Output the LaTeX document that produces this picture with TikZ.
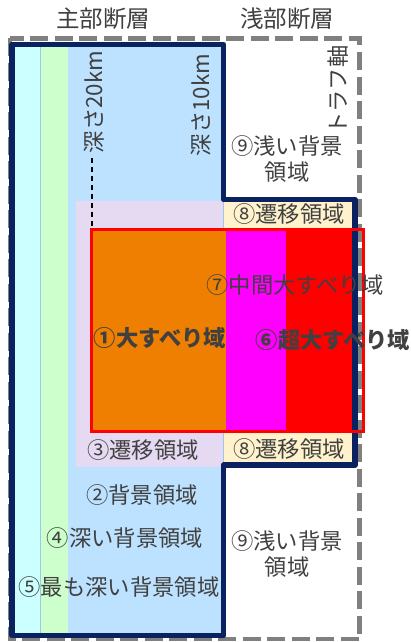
\documentclass[tikz,border=0pt]{standalone}
\usepackage{fontspec}
\setmainfont{Noto Sans CJK JP}
\definecolor{navyc}{HTML}{0B2260}
\definecolor{cyanf}{HTML}{CCFFFF}
\definecolor{greenf}{HTML}{CCFFCC}
\definecolor{bluef}{HTML}{BDE2FF}
\definecolor{purplef}{HTML}{E6D9F2}
\definecolor{yellowf}{HTML}{FFF2CC}
\definecolor{orangef}{HTML}{EF7F00}
\definecolor{magentaf}{HTML}{FF00FF}
\definecolor{redf}{HTML}{FF0000}
\definecolor{txt}{HTML}{404040}
\definecolor{grayd}{HTML}{808080}
\definecolor{edgeblue}{HTML}{9CC8EE}
\tikzset{
  lbl/.style={text=txt, inner sep=0pt, font=\fontsize{22.3}{26}\selectfont},
  blbl/.style={lbl, font=\fontsize{22.3}{26}\selectfont\bfseries},
  hdr/.style={lbl, font=\fontsize{23.5}{27}\selectfont},
  rot/.style={lbl, rotate=90},
  navyline/.style={draw=navyc, line width=5.5pt, line join=round},
  grayline/.style={draw=grayd, line width=4.5pt, dash pattern=on 18pt off 6.5pt},
  redline/.style={draw=redf, line width=3pt},
  depthline/.style={draw=black, line width=1.4pt, dash pattern=on 5pt off 4pt}
}
\begin{document}
\begin{tikzpicture}[x=1pt,y=-1pt]
\useasboundingbox (0,0) rectangle (410,642);
% background strips of the main fault
\fill[cyanf] (12,44.5) rectangle (40,635.5);
\fill[greenf] (40,44.5) rectangle (68,635.5);
\fill[bluef] (68,44.5) rectangle (223.5,635.5);
\draw[edgeblue, line width=0.5pt] (40,44.5) -- (40,635.5);
% transition regions
\fill[purplef] (76,201) rectangle (222.5,467);
\fill[yellowf] (223.5,199.5) rectangle (355,229);
\fill[yellowf] (223.5,431) rectangle (355,465);
\draw[edgeblue, line width=0.7pt] (223,199.5) -- (223,465);
% depth 20 km dashed marker
\coordinate (d1) at (92,158);
\coordinate (d2) at (92,229);
\draw[depthline] (d1) -- (d2);
% slip regions
\fill[orangef] (91,229) rectangle (226,431);
\fill[magentaf] (226,229) rectangle (286,431);
\fill[redf] (286,229) rectangle (355,431);
% gray dashed frame
\draw[grayline] (10,38.5) rectangle (359.5,639);
% navy outline
\draw[navyline] (12,44.5) -- (223.5,44.5) -- (223.5,199.5) -- (355,199.5) -- (355,465) -- (223.5,465) -- (223.5,635.5) -- (12,635.5) -- cycle;
% red outline
\draw[redline] (91,229) rectangle (363,431);
% headers
\node[hdr] (hmain) at (103,19) {主部断層};
\node[hdr] (hshallow) at (287,19) {浅部断層};
% rotated labels
\node[rot] (d20) at (94,102) {深さ20km};
\node[rot] (d10) at (201,105) {深さ10km};
\node[rot] (trough) at (338,90) {トラフ軸};
% region labels
\node[lbl, align=center] (r9a) at (287,159) {⑨浅い背景\\領域};
\node[lbl, fill=yellowf, inner xsep=1pt] (r8a) at (289,214) {⑧遷移領域};
\node[lbl] (r7) at (295,285) {⑦中間大すべり域};
\node[blbl] (r1) at (160,338) {①大すべり域};
\node[blbl] (r6) at (333,340) {⑥超大すべり域};
\node[lbl] (r3) at (143,450) {③遷移領域};
\node[lbl, fill=yellowf, inner xsep=1pt] (r8b) at (289,449) {⑧遷移領域};
\node[lbl] (r2) at (142,495) {②背景領域};
\node[lbl] (r4) at (125,538) {④深い背景領域};
\node[lbl] (r5) at (119,587) {⑤最も深い背景領域};
\node[lbl, align=center] (r9b) at (287,554) {⑨浅い背景\\領域};
\end{tikzpicture}
\end{document}
